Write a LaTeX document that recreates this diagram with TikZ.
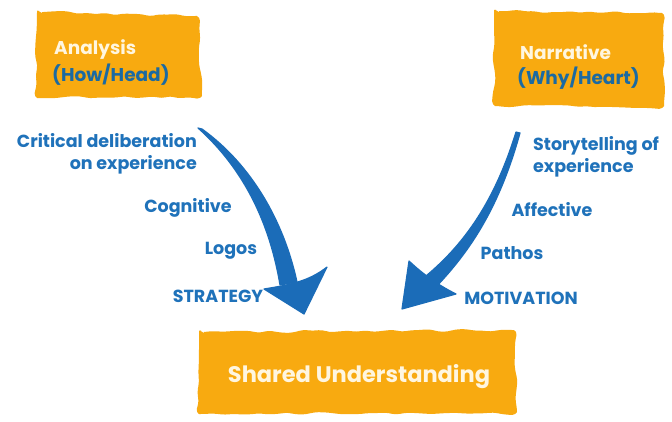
\documentclass[tikz,border=0pt]{standalone}
\usepackage{fontspec}
\setmainfont{Poppins}
\usetikzlibrary{decorations.pathmorphing,calc}
\definecolor{orangeA}{HTML}{F8AA10}
\definecolor{blueA}{HTML}{1F72BA}
\definecolor{tealA}{HTML}{1B6AA2}
\definecolor{arrowA}{HTML}{1B6CB8}
\definecolor{creamA}{HTML}{FFF6E0}
\begin{document}
\begin{tikzpicture}[x=1pt,y=-1pt,
  blob/.style={fill=orangeA, draw=orangeA, line width=2pt, line join=round, decorate,
    decoration={random steps, segment length=9pt, amplitude=1.6pt}, rounded corners=4pt},
  lbl/.style={text=blueA, font=\bfseries\fontsize{17.5}{22}\selectfont, inner sep=0pt},
  head/.style={text=creamA, font=\bfseries\fontsize{18.5}{20}\selectfont, inner sep=0pt, anchor=west},
  sub/.style={text=tealA, font=\bfseries\fontsize{18.5}{20}\selectfont, inner sep=0pt, anchor=west},
  bigarrow/.style={fill=arrowA, draw=arrowA, line width=1.2pt, line join=round}
]
\useasboundingbox (0,0) rectangle (672,421);
\fill[white] (0,0) rectangle (672,421);

% blobs
\path[blob] (38,13) -- (197,17) -- (201,96) -- (37,97) -- cycle;
\path[blob] (495,12) -- (662,14) -- (663,106) -- (495,105) -- cycle;
\path[blob] (200,333) -- (514,331) -- (516,412) -- (199,413) -- cycle;

% box texts
\node[head] (an) at (54,50) {Analysis};
\node[sub] (hh) at (52,75) {(How/Head)};
\node[head] (na) at (520,52) {Narrative};
\node[sub] (wh) at (517,78) {(Why/Heart)};
\node[text=creamA, font=\bfseries\fontsize{22.5}{26}\selectfont, inner sep=0pt] (su) at (359,377) {Shared Understanding};

% labels left
\node[lbl, align=right, anchor=east] (crit) at (197,154) {Critical deliberation\\on experience};
\node[lbl] (cog) at (188,208) {Cognitive};
\node[lbl] (log) at (231,251) {Logos};
\node[lbl] (str) at (218,296) {STRATEGY};
% labels right
\node[lbl, align=left, anchor=west] (sto) at (533,157) {Storytelling of\\experience};
\node[lbl] (aff) at (552,210) {Affective};
\node[lbl] (pat) at (512,253) {Pathos};
\node[lbl] (mot) at (521,298) {MOTIVATION};

% arrows
\coordinate (ls) at (200,128);
\coordinate (lt) at (304,314);
\coordinate (rs) at (518,132);
\coordinate (rt) at (402,309);

\fill[bigarrow] ($(ls)+(-2,0)$) .. controls (245,170) and (270,225) .. (280,285)
  -- (297,282) .. controls (284,222) and (252,165) .. ($(ls)+(2,1)$) -- cycle;
\fill[bigarrow] (264,289) -- (lt) -- (327,267) .. controls (308,282) and (288,285) .. cycle;

\fill[bigarrow] ($(rs)+(-2,0)$) .. controls (495,200) and (465,245) .. (421,280)
  -- (433,290) .. controls (472,250) and (500,205) .. ($(rs)+(2,1)$) -- cycle;
\fill[bigarrow] (409,261) -- (rt) -- (456,294) .. controls (440,286) and (425,276) .. cycle;
\end{tikzpicture}
\end{document}
